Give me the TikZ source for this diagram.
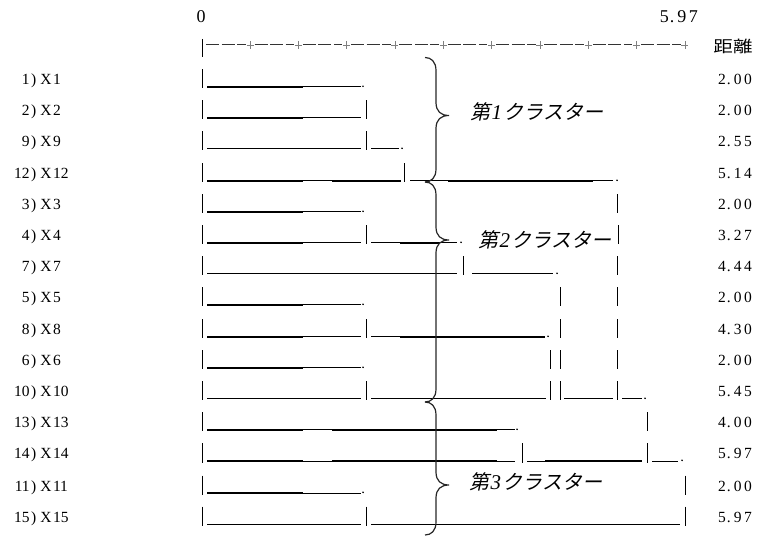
\documentclass[tikz,border=0pt]{standalone}
\usepackage{fontspec}
\setmainfont{Liberation Serif}
\newfontfamily\cjk[FakeSlant=0.22]{Noto Sans CJK JP}
\newfontfamily\cjkup{Noto Sans CJK JP}
\newcommand\vbx[2]{\draw[vbar] (#1,{#2-10.5}) -- (#1,{#2+8.5});}
\newcommand\hthk[3]{\draw[thk] (#1,{#3+6.8}) -- (#2,{#3+6.8});}
\newcommand\hthn[3]{\draw[thn] (#1,{#3+7}) -- (#2,{#3+7});}
\newcommand\mdot[2]{\fill (#1,{#2+6.3}) circle (0.95);}
\newcommand\lab[2]{\llap{#1\hspace{1.5pt}})\hspace{4pt}X\hspace{1.5pt}#2}
\newcommand\val[3]{#1\hspace{1pt}.\hspace{3pt}#2\hspace{2.5pt}#3}
\newcommand\clusterlab[1]{{\cjk 第}\hspace{1.5pt}{\itshape\fontsize{21}{22}\selectfont #1}\hspace{1.5pt}{\cjk クラスター}}
\newcommand\bracex[3]{\draw[brc] (425,#1) .. controls (431,#1) and (436,{#1+4}) .. (436,{#1+13}) -- (436,{#2-13}) .. controls (436,{#2-4}) and (441,#2) .. (449,#2) .. controls (441,#2) and (436,{#2+4}) .. (436,{#2+13}) -- (436,{#3-13}) .. controls (436,{#3-4}) and (431,#3) .. (425,#3);}
\begin{document}
\begin{tikzpicture}[x=1pt,y=-1pt,
  thk/.style={line width=2.4pt},
  thn/.style={line width=1.0pt},
  vbar/.style={line width=1.0pt},
  brc/.style={line width=1.2pt,black!85},
  lbl/.style={font=\fontsize{15.5}{17}\selectfont,inner sep=0pt},
  hdr/.style={font=\fontsize{18}{20}\selectfont,inner sep=0pt},
  clab/.style={font=\fontsize{20}{22}\selectfont,inner sep=0pt,anchor=west}]
\useasboundingbox (0,0) rectangle (761,537);
% header
\node[hdr,anchor=base] (zero) at (201,23) {0};
\node[hdr,anchor=base east] (max) at (698,23) {\val{5}{9}{7}};
\node[inner sep=0pt] (dist) at (733,46.5) {\scalebox{1.22}[1]{\fontsize{16}{18}\selectfont\cjkup 距離}};
% axis
\draw[vbar] (202,39) -- (202,57);
\draw[line width=1pt,black!80,dash pattern=on 13pt off 2.5pt] (206,45) -- (246,45);
\foreach \k in {0,...,9}{
  \pgfmathsetmacro\tx{250+48.33*\k}
  \draw[line width=0.9pt,gray] (\tx-3.5,45) -- (\tx+3.5,45) (\tx,41) -- (\tx,49);
  \ifnum\k<9
    \draw[line width=1pt,black!80,dash pattern=on 13pt off 2.5pt] (\tx+4.5,45) -- (\tx+44,45);
  \fi
}
% row labels
\node[lbl,anchor=base west] (r1)  at (31,85)  {\lab{1}{1}};
\node[lbl,anchor=base west] (r2)  at (31,116) {\lab{2}{2}};
\node[lbl,anchor=base west] (r9)  at (31,147) {\lab{9}{9}};
\node[lbl,anchor=base west] (r12) at (31,179) {\lab{12}{12}};
\node[lbl,anchor=base west] (r3)  at (31,210) {\lab{3}{3}};
\node[lbl,anchor=base west] (r4)  at (31,241) {\lab{4}{4}};
\node[lbl,anchor=base west] (r7)  at (31,272) {\lab{7}{7}};
\node[lbl,anchor=base west] (r5)  at (31,303) {\lab{5}{5}};
\node[lbl,anchor=base west] (r8)  at (31,335) {\lab{8}{8}};
\node[lbl,anchor=base west] (r6)  at (31,366) {\lab{6}{6}};
\node[lbl,anchor=base west] (r10) at (31,397) {\lab{10}{10}};
\node[lbl,anchor=base west] (r13) at (31,428) {\lab{13}{13}};
\node[lbl,anchor=base west] (r14) at (31,459) {\lab{14}{14}};
\node[lbl,anchor=base west] (r11) at (31,491) {\lab{11}{11}};
\node[lbl,anchor=base west] (r15) at (31,522) {\lab{15}{15}};
% distances
\node[lbl,anchor=base east] (d1)  at (752,85)  {\val{2}{0}{0}};
\node[lbl,anchor=base east] (d2)  at (752,116) {\val{2}{0}{0}};
\node[lbl,anchor=base east] (d9)  at (752,147) {\val{2}{5}{5}};
\node[lbl,anchor=base east] (d12) at (752,179) {\val{5}{1}{4}};
\node[lbl,anchor=base east] (d3)  at (752,210) {\val{2}{0}{0}};
\node[lbl,anchor=base east] (d4)  at (752,241) {\val{3}{2}{7}};
\node[lbl,anchor=base east] (d7)  at (752,272) {\val{4}{4}{4}};
\node[lbl,anchor=base east] (d5)  at (752,303) {\val{2}{0}{0}};
\node[lbl,anchor=base east] (d8)  at (752,335) {\val{4}{3}{0}};
\node[lbl,anchor=base east] (d6)  at (752,366) {\val{2}{0}{0}};
\node[lbl,anchor=base east] (d10) at (752,397) {\val{5}{4}{5}};
\node[lbl,anchor=base east] (d13) at (752,428) {\val{4}{0}{0}};
\node[lbl,anchor=base east] (d14) at (752,459) {\val{5}{9}{7}};
\node[lbl,anchor=base east] (d11) at (752,491) {\val{2}{0}{0}};
\node[lbl,anchor=base east] (d15) at (752,522) {\val{5}{9}{7}};
% row 1) X1
\vbx{202}{80} \hthk{207}{303}{80} \hthn{303}{361}{80} \mdot{363}{80}
% row 2) X2
\vbx{202}{111} \hthk{207}{303}{111} \hthn{303}{361}{111} \vbx{366}{111}
% row 9) X9
\vbx{202}{142} \hthn{207}{361}{142} \vbx{366}{142} \hthn{371}{399}{142} \mdot{402}{142}
% row 12) X12
\vbx{202}{174} \hthk{207}{303}{174} \hthn{303}{332}{174} \hthk{332}{401}{174} \vbx{404}{174}
\hthn{410}{448}{174} \hthk{448}{593}{174} \hthn{593}{613}{174} \mdot{617}{174}
% row 3) X3
\vbx{202}{205} \hthk{207}{303}{205} \hthn{303}{361}{205} \mdot{363}{205} \vbx{617}{205}
% row 4) X4
\vbx{202}{236} \hthk{207}{303}{236} \hthn{303}{361}{236} \vbx{366}{236}
\hthn{371}{400}{236} \hthk{400}{440}{236} \hthn{440}{457}{236} \mdot{461}{236} \vbx{618}{236}
% row 7) X7
\vbx{202}{267} \hthn{207}{457}{267} \vbx{463}{267} \hthn{472}{553}{267} \mdot{557}{267} \vbx{617}{267}
% row 5) X5
\vbx{202}{298} \hthk{207}{303}{298} \hthn{303}{361}{298} \mdot{363}{298} \vbx{560}{298} \vbx{617}{298}
% row 8) X8
\vbx{202}{330} \hthk{207}{303}{330} \hthn{303}{361}{330} \vbx{366}{330}
\hthn{371}{400}{330} \hthk{400}{545}{330} \mdot{548}{330} \vbx{560}{330} \vbx{617}{330}
% row 6) X6
\vbx{202}{361} \hthk{207}{303}{361} \hthn{303}{361}{361} \mdot{363}{361}
\vbx{550}{361} \vbx{560}{361} \vbx{617}{361}
% row 10) X10
\vbx{202}{392} \hthn{207}{361}{392} \vbx{366}{392} \hthn{371}{546}{392} \vbx{550}{392} \vbx{560}{392}
\hthn{564}{613}{392} \vbx{617}{392} \hthn{622}{642}{392} \mdot{645}{392}
% row 13) X13
\vbx{202}{423} \hthk{207}{303}{423} \hthn{303}{332}{423} \hthk{332}{497}{423} \hthn{497}{515}{423}
\mdot{517}{423} \vbx{647}{423}
% row 14) X14
\vbx{202}{454} \hthk{207}{303}{454} \hthn{303}{332}{454} \hthk{332}{497}{454} \hthn{497}{515}{454}
\vbx{522}{454} \hthn{527}{545}{454} \hthk{545}{642}{454} \vbx{647}{454} \hthn{652}{678}{454} \mdot{682}{454}
% row 11) X11
\vbx{202}{486} \hthk{207}{303}{486} \hthn{303}{361}{486} \mdot{363}{486} \vbx{685}{486}
% row 15) X15
\vbx{202}{517} \hthn{207}{361}{517} \vbx{366}{517} \hthn{371}{680}{517} \vbx{685}{517}
% braces
\bracex{57.5}{115.5}{182}
\bracex{182}{240}{402}
\bracex{402}{485}{535}
% cluster labels
\node[clab] (c1) at (470,112) {\clusterlab{1}};
\node[clab] (c2) at (478,240) {\clusterlab{2}};
\node[clab] (c3) at (469,482) {\clusterlab{3}};
\end{tikzpicture}
\end{document}
